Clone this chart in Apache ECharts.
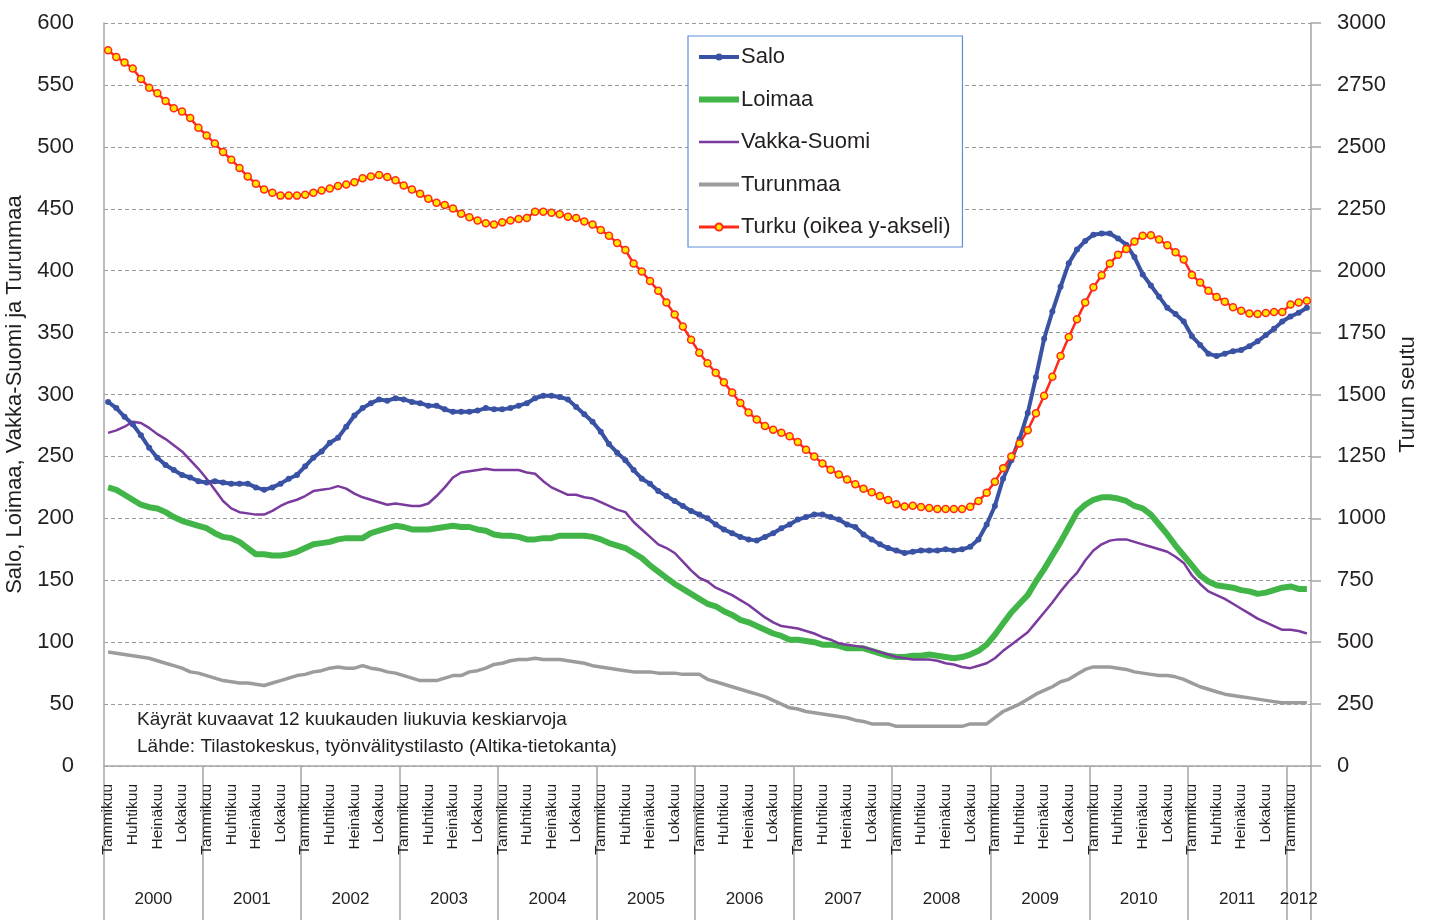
<!DOCTYPE html>
<html>
<head>
<meta charset="utf-8">
<script src="https://cdn.jsdelivr.net/npm/echarts@6/dist/echarts.min.js"></script>
<style>
  html, body { margin: 0; padding: 0; background: #fff; }
  #main { width: 1432px; height: 920px; }
</style>
</head>
<body>
<div id="main"></div>
<script>
var FONT = "'Liberation Sans', Arial, sans-serif";

var years = ['2000', '2001', '2002', '2003', '2004', '2005', '2006', '2007', '2008', '2009', '2010', '2011', '2012'];
var monthNames = ['Tammikuu', 'Helmikuu', 'Maaliskuu', 'Huhtikuu', 'Toukokuu', 'Kesäkuu',
  'Heinäkuu', 'Elokuu', 'Syyskuu', 'Lokakuu', 'Marraskuu', 'Joulukuu'];
var monthsIn2012 = 3;

// 12 kk liukuvat keskiarvot, tammikuu 2000 - maaliskuu 2012
var salo = [
  294, 289, 282, 276, 267, 257, 249, 243, 239, 235, 233, 230,
  229, 230, 229, 228, 228, 228, 225, 223, 225, 228, 232, 235,
  242, 249, 254, 261, 265, 274, 283, 289, 293, 296, 295, 297,
  296, 294, 293, 291, 291, 288, 286, 286, 286, 287, 289, 288,
  288, 289, 291, 293, 297, 299, 299, 298, 296, 290, 284, 278,
  270, 260, 253, 247, 239, 232, 228, 222, 218, 214, 210, 206,
  203, 200, 195, 191, 188, 185, 183, 182, 185, 188, 192, 195,
  199, 201, 203, 203, 201, 199, 195, 193, 187, 183, 179, 176,
  174, 172, 173, 174, 174, 174, 175, 174, 175, 177, 183, 195,
  210, 232, 247, 264, 285, 314, 345, 367, 387, 406, 417, 424,
  429, 430, 430, 426, 421, 411, 397, 388, 379, 370, 365, 359,
  347, 340, 333, 331, 333, 335, 336, 339, 343, 348, 353, 359,
  363, 366, 370
];
var loimaa = [
  225, 223, 219, 215, 211, 209, 208, 205, 201, 198, 196, 194,
  192, 188, 185, 184, 181, 176, 171, 171, 170, 170, 171, 173,
  176, 179, 180, 181, 183, 184, 184, 184, 188, 190, 192, 194,
  193, 191, 191, 191, 192, 193, 194, 193, 193, 191, 190, 187,
  186, 186, 185, 183, 183, 184, 184, 186, 186, 186, 186, 185,
  183, 180, 178, 176, 172, 168, 162, 157, 152, 147, 143, 139,
  135, 131, 129, 125, 122, 118, 116, 113, 110, 107, 105, 102,
  102, 101, 100, 98, 98, 97, 95, 95, 95, 93, 91, 89,
  88, 88, 89, 89, 90, 89, 88, 87, 88, 90, 93, 98,
  106, 115, 124, 131, 138, 149, 159, 170, 181, 193, 205, 211,
  215, 217, 217, 216, 214, 210, 208, 203, 195, 187, 178, 170,
  162, 154, 149, 146, 145, 144, 142, 141, 139, 140, 142, 144,
  145, 143, 143
];
var vakkaSuomi = [
  269, 271, 274, 278, 277, 273, 268, 264, 259, 254, 247, 240,
  232, 223, 214, 208, 205, 204, 203, 203, 206, 210, 213, 215,
  218, 222, 223, 224, 226, 224, 220, 217, 215, 213, 211, 212,
  211, 210, 210, 212, 218, 225, 233, 237, 238, 239, 240, 239,
  239, 239, 239, 237, 236, 230, 225, 222, 219, 219, 217, 216,
  213, 210, 207, 205, 197, 191, 185, 179, 176, 172, 165, 158,
  152, 149, 144, 141, 138, 134, 130, 125, 120, 116, 113, 112,
  111, 109, 107, 104, 102, 99, 98, 97, 96, 94, 92, 90,
  88, 87, 86, 86, 86, 85, 83, 82, 80, 79, 81, 83,
  87, 93, 98, 103, 108, 116, 124, 132, 141, 149, 156, 166,
  174, 179, 182, 183, 183, 181, 179, 177, 175, 173, 169, 164,
  154, 147, 141, 138, 135, 131, 127, 123, 119, 116, 113, 110,
  110, 109, 107
];
var turunmaa = [
  92, 91, 90, 89, 88, 87, 85, 83, 81, 79, 76, 75,
  73, 71, 69, 68, 67, 67, 66, 65, 67, 69, 71, 73,
  74, 76, 77, 79, 80, 79, 79, 81, 79, 78, 76, 75,
  73, 71, 69, 69, 69, 71, 73, 73, 76, 77, 79, 82,
  83, 85, 86, 86, 87, 86, 86, 86, 85, 84, 83, 81,
  80, 79, 78, 77, 76, 76, 76, 75, 75, 75, 74, 74,
  74, 70, 68, 66, 64, 62, 60, 58, 56, 53, 50, 47,
  46, 44, 43, 42, 41, 40, 39, 37, 36, 34, 34, 34,
  32, 32, 32, 32, 32, 32, 32, 32, 32, 34, 34, 34,
  39, 44, 47, 50, 54, 58, 61, 64, 68, 70, 74, 78,
  80, 80, 80, 79, 78, 76, 75, 74, 73, 73, 72, 70,
  67, 64, 62, 60, 58, 57, 56, 55, 54, 53, 52, 51,
  51, 51, 51
];
var turku = [
  2890, 2863, 2841, 2816, 2774, 2739, 2716, 2685, 2656, 2643, 2616, 2577,
  2546, 2513, 2479, 2448, 2415, 2380, 2351, 2328, 2315, 2303, 2303, 2303,
  2307, 2315, 2324, 2332, 2342, 2348, 2357, 2373, 2380, 2386, 2378, 2365,
  2344, 2328, 2311, 2290, 2274, 2265, 2251, 2230, 2216, 2203, 2191, 2186,
  2195, 2203, 2209, 2213, 2238, 2238, 2234, 2228, 2218, 2213, 2199, 2186,
  2164, 2141, 2112, 2083, 2029, 1997, 1958, 1919, 1871, 1823, 1775, 1721,
  1669, 1626, 1588, 1549, 1508, 1466, 1427, 1399, 1373, 1358, 1346, 1331,
  1308, 1277, 1250, 1221, 1196, 1177, 1157, 1138, 1119, 1105, 1090, 1074,
  1057, 1048, 1051, 1046, 1042, 1038, 1038, 1038, 1038, 1047, 1070, 1103,
  1148, 1202, 1250, 1302, 1356, 1424, 1495, 1572, 1655, 1732, 1804, 1871,
  1933, 1981, 2029, 2064, 2087, 2118, 2141, 2143, 2126, 2103, 2074, 2045,
  1983, 1952, 1919, 1894, 1875, 1852, 1838, 1827, 1825, 1829, 1833, 1833,
  1863, 1871, 1879
];

// kuukausiluokat
var months = [];
var yearOf = [];
years.forEach(function (y, yi) {
  var n = yi === years.length - 1 ? monthsIn2012 : 12;
  for (var m = 0; m < n; m++) {
    months.push(monthNames[m]);
    yearOf.push(y);
  }
});
var lastYearStart = 12 * (years.length - 1);

var axisGray = '#a6a6a6';
var textColor = '#231f20';
var noDot = { opacity: 0 };

var myChart = echarts.init(document.getElementById('main'));

myChart.setOption({
  animation: false,
  backgroundColor: '#ffffff',
  textStyle: { fontFamily: FONT },
  grid: { left: 104, right: 121, top: 23, bottom: 154, containLabel: false, outerBoundsMode: 'none' },
  title: {
    text: 'Käyrät kuvaavat 12 kuukauden liukuvia keskiarvoja\nLähde: Tilastokeskus, työnvälitystilasto (Altika-tietokanta)',
    left: 137,
    top: 706,
    padding: 0,
    textStyle: { fontFamily: FONT, fontSize: 19, fontWeight: 'normal', color: textColor, lineHeight: 27 }
  },
  legend: {
    data: [
      { name: 'Salo', lineStyle: { width: 4 } },
      { name: 'Loimaa', itemStyle: noDot, lineStyle: { width: 6 } },
      { name: 'Vakka-Suomi', itemStyle: noDot, lineStyle: { width: 2.5 } },
      { name: 'Turunmaa', itemStyle: noDot, lineStyle: { width: 4 } },
      { name: 'Turku (oikea y-akseli)', lineStyle: { width: 3 } }
    ],
    orient: 'vertical',
    left: 688,
    top: 36,
    padding: [6, 12, 5, 8],
    itemGap: 12.5,
    itemWidth: 40,
    itemHeight: 9,
    borderColor: '#5b8fd6',
    borderWidth: 1.2,
    borderRadius: 0,
    backgroundColor: '#ffffff',
    textStyle: { fontFamily: FONT, fontSize: 22, color: textColor, lineHeight: 30, padding: [0, 0, 0, -3] }
  },
  xAxis: [
    {
      type: 'category',
      position: 'bottom',
      data: months,
      boundaryGap: true,
      axisLine: { lineStyle: { color: axisGray, width: 1.5 } },
      axisTick: {
        show: true,
        interval: function (i) { return i % 12 === 0; },
        length: 154,
        lineStyle: { color: axisGray, width: 1.5 }
      },
      axisLabel: {
        interval: function (i) { return i % 3 === 0; },
        rotate: 90,
        margin: 18,
        fontFamily: FONT,
        fontSize: 15.5,
        color: textColor
      },
      splitLine: { show: false }
    },
    {
      type: 'category',
      position: 'bottom',
      data: yearOf,
      boundaryGap: true,
      axisLine: { show: false },
      axisTick: { show: false },
      axisLabel: {
        interval: function (i) {
          return (i < lastYearStart && i % 12 === 6) || i === lastYearStart + 1;
        },
        margin: 125,
        formatter: function (v, i) {
          return i === lastYearStart + 1 ? '{b|' + v + '}' : '{a|' + v + '}';
        },
        rich: {
          a: { fontFamily: FONT, fontSize: 17, color: textColor, padding: [0, 8, 0, 0] },
          b: { fontFamily: FONT, fontSize: 17, color: textColor }
        }
      },
      splitLine: { show: false }
    }
  ],
  yAxis: [
    {
      type: 'value',
      min: 0,
      max: 600,
      interval: 50,
      name: 'Salo, Loimaa, Vakka-Suomi ja Turunmaa',
      nameLocation: 'middle',
      nameRotate: 90,
      nameGap: 74,
      nameTextStyle: { fontFamily: FONT, fontSize: 22, color: textColor },
      axisLine: { show: true, lineStyle: { color: axisGray, width: 1.5 } },
      axisTick: { show: false },
      axisLabel: { margin: 30, fontFamily: FONT, fontSize: 22, color: textColor },
      splitLine: { show: true, lineStyle: { color: '#9a9a9a', type: [4, 3], width: 1 } }
    },
    {
      type: 'value',
      min: 0,
      max: 3000,
      interval: 250,
      position: 'right',
      name: 'Turun seutu',
      nameLocation: 'middle',
      nameRotate: 90,
      nameGap: 83,
      nameTextStyle: { fontFamily: FONT, fontSize: 22, color: textColor },
      axisLine: { show: true, lineStyle: { color: axisGray, width: 1.5 } },
      axisTick: { show: true, length: 10, lineStyle: { color: axisGray, width: 1.5 } },
      axisLabel: {
        margin: 26,
        fontFamily: FONT,
        fontSize: 22,
        color: textColor,
        formatter: function (v) { return String(v); }
      },
      splitLine: { show: false }
    }
  ],
  series: [
    {
      name: 'Salo',
      type: 'line',
      yAxisIndex: 0,
      data: salo,
      symbol: 'circle',
      symbolSize: 6,
      showAllSymbol: true,
      color: '#3a52a3',
      itemStyle: { color: '#3a52a3' },
      lineStyle: { color: '#3a52a3', width: 4 }
    },
    {
      name: 'Loimaa',
      type: 'line',
      yAxisIndex: 0,
      data: loimaa,
      symbol: 'none',
      color: '#42b549',
      lineStyle: { color: '#42b549', width: 6 }
    },
    {
      name: 'Vakka-Suomi',
      type: 'line',
      yAxisIndex: 0,
      data: vakkaSuomi,
      symbol: 'none',
      color: '#7a3a9e',
      lineStyle: { color: '#7a3a9e', width: 2.5 }
    },
    {
      name: 'Turunmaa',
      type: 'line',
      yAxisIndex: 0,
      data: turunmaa,
      symbol: 'none',
      color: '#9c9c9e',
      lineStyle: { color: '#9c9c9e', width: 3.5 }
    },
    {
      name: 'Turku (oikea y-akseli)',
      type: 'line',
      yAxisIndex: 1,
      data: turku,
      symbol: 'circle',
      symbolSize: 7,
      showAllSymbol: true,
      color: '#ff2a1a',
      itemStyle: { color: '#ffe800', borderColor: '#ff2a1a', borderWidth: 1.5 },
      lineStyle: { color: '#ff2a1a', width: 2.5 }
    }
  ]
});
</script>
</body>
</html>
